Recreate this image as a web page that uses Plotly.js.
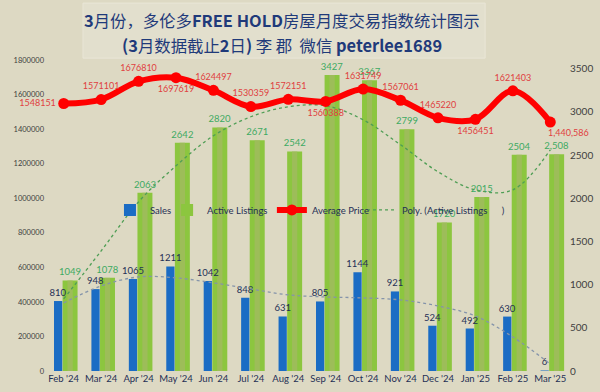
<!DOCTYPE html>
<html><head><meta charset="utf-8">
<script src="https://cdn.plot.ly/plotly-3.0.1.min.js"></script>
<style>html,body{margin:0;padding:0;background:#DDD9C3}#chart{width:600px;height:392px}</style>
</head><body><div id="chart"></div>
<script>
const months = ["Feb '24","Mar '24","Apr '24","May '24","Jun '24","Jul '24","Aug '24","Sep '24","Oct '24","Nov '24","Dec '24","Jan '25","Feb '25","Mar '25"];
const sales = [810,948,1065,1211,1042,848,631,805,1144,921,524,492,630,6];
const activeListings = [1049,1078,2063,2642,2820,2671,2542,3427,3367,2799,1720,2015,2504,2508];
const avgPrice = [1548151,1571101,1676810,1697619,1624497,1530359,1572151,1560388,1631749,1567061,1465220,1456451,1621403,1440586];
// dotted polynomial trend lines
const listingsTrend = [834,1390,1958,2375,2723,2943,3059,3070,2908,2619,2306,2097,2097,2560];
const salesTrend = [788,985,1089,1078,1020,950,881,857,846,823,753,637,394,81];
const titleLine1 = '<b>3</b>月份，多伦多<b>FREE HOLD</b>房屋月度交易指数统计图示';
const titleLine2 = '<b>(3</b>月数据截止<b>2</b>日<b>)</b> 李 郡  微信 <b>peterlee1689</b>';

const fmt = v => v.toLocaleString('en-US');
const last = activeListings.length - 1;
const listingLabels = activeListings.map((v,i) => i === last ? fmt(v) : String(v));
const priceLabels = avgPrice.map((v,i) => i === last ? '' : String(v));
const pricePos = ['middle left','top center','top center','bottom center','top center','top center','top center','bottom center','top center','top center','top center','bottom center','top center','bottom right'];

const F = 'Lato, "Noto Sans", sans-serif';

const traces = [
  {type:'bar', name:'Active Listings', x:months, y:activeListings, yaxis:'y', offset:-0.03, width:0.4,
   marker:{color:'#8cc63f'}, text:listingLabels, textposition:'outside', cliponaxis:false,
   textfont:{family:F, size:9.5, color:'#3daa62'}, constraintext:'none', legend:'legend2'},
  {type:'bar', x:months, y:activeListings, yaxis:'y', offset:0.1, width:0.14,
   marker:{color:'#a3b963', opacity:0.75}, showlegend:false, hoverinfo:'skip'},
  {type:'bar', name:'Sales', x:months, y:sales, yaxis:'y', offset:-0.26, width:0.22,
   marker:{color:'#1a6cc4'}, text:sales.map(String), textposition:'outside', cliponaxis:false,
   textfont:{family:F, size:9.5, color:'#1F2F55'}, constraintext:'none', legend:'legend'},
  {type:'scatter', mode:'lines', x:months, y:salesTrend, yaxis:'y', line:{color:'#8594aa', width:1.3, dash:'dot', shape:'spline'},
   showlegend:false, hoverinfo:'skip'},
  {type:'scatter', mode:'lines', name:'Poly. (Active Listings\u00a0\u00a0\u00a0\u00a0\u00a0\u00a0)', x:months, y:listingsTrend, yaxis:'y',
   line:{color:'#4f9e55', width:1.3, dash:'dot', shape:'spline'}, legend:'legend4'},
  {type:'scatter', mode:'lines+markers+text', name:'Average Price', x:months, y:avgPrice, yaxis:'y2',
   line:{color:'#ff0000', width:6, shape:'spline'}, marker:{color:'#ff0000', size:11},
   text:priceLabels, textposition:pricePos, textfont:{family:F, size:9, color:'#e04040'}, cliponaxis:false, legend:'legend3'}
];

const legBase = {orientation:'h', y:0.518, yanchor:'middle', bgcolor:'rgba(0,0,0,0)', font:{family:F, size:9.5, color:'#1F2F55'}};
const titleFont = {family:'"Noto Sans CJK SC", sans-serif', size:16.4, color:'#1F3A7A'};
const layout = {
  width:600, height:392,
  paper_bgcolor:'#DDD9C3', plot_bgcolor:'#DDD9C3',
  margin:{l:45, r:31, t:60, b:21},
  barmode:'overlay',
  xaxis:{type:'category', range:[-0.5,13.5], tickangle:0, showgrid:false, zeroline:false, showline:false, ticks:'',
    tickfont:{family:F, size:9.5, color:'#1F2F55'}},
  yaxis:{side:'right', range:[0,3600], dtick:500, showgrid:false, zeroline:false, showline:false, ticks:'',
    tickfont:{family:F, size:10, color:'#404040'}},
  yaxis2:{overlaying:'y', side:'left', range:[0,1800000], dtick:200000, tickformat:'d', showgrid:false, zeroline:false, showline:false, ticks:'',
    tickfont:{family:F, size:7.5, color:'#404040'}},
  legend:Object.assign({x:0.124}, legBase),
  legend2:Object.assign({x:0.233}, legBase),
  legend3:Object.assign({x:0.433}, legBase),
  legend4:Object.assign({x:0.605}, legBase),
  annotations:[
    {text:titleLine1, xref:'paper', yref:'paper', x:0.452, y:1.1286, xanchor:'center', yanchor:'middle', showarrow:false, font:titleFont},
    {text:titleLine2, xref:'paper', yref:'paper', x:0.452, y:1.048, xanchor:'center', yanchor:'middle', showarrow:false, font:titleFont},
    {text:fmt(avgPrice[last]), xref:'x', yref:'y2', x:months[last], y:avgPrice[last], xanchor:'center', yanchor:'top',
     xshift:18, yshift:-3, showarrow:false, font:{family:F, size:9, color:'#e04040'}}
  ],
  shapes:[{type:'rect', xref:'paper', yref:'paper', x0:0.0725, x1:0.84, y0:1.006, y1:1.183,
    fillcolor:'#E2DFCD', line:{color:'#E9E6D7', width:1}, layer:'below'}],
  showlegend:true
};
Plotly.newPlot('chart', traces, layout, {displayModeBar:false, staticPlot:true});
</script></body></html>
